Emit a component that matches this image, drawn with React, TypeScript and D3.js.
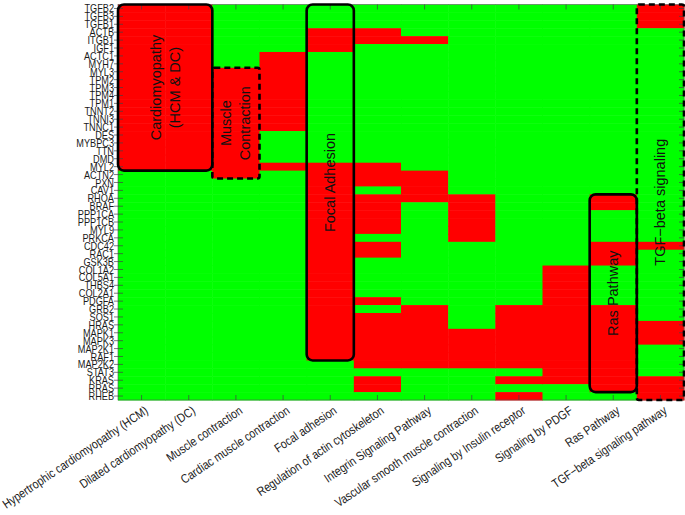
import React from "react";
import * as d3 from "d3";

const genes = [
  "TGFB2", "TGFB3", "TGFB1", "ACTB", "ITGB1", "IGF1", "ACTC1", "MYH7", "MYL3", "TPM2",
  "TPM3", "TPM4", "TPM1", "TNNT2", "TNNI3", "TNNC1", "DES", "MYBPC3", "TTN", "DMD",
  "MYL2", "ACTN2", "PXN", "CAV1", "RHOA", "BRAF", "PPP1CA", "PPP1CB", "MYL9", "PRKCA",
  "CDC42", "RAC1", "GSK3B", "COL1A2", "COL5A1", "THBS4", "COL2A1", "PDGFA", "GRB2", "SOS1",
  "HRAS", "MAPK1", "MAPK3", "MAP2K1", "RAF1", "MAP2K2", "STAT3", "KRAS", "RRAS", "RHEB",
];

const pathways = [
  "Hypertrophic cardiomyopathy (HCM)",
  "Dilated cardiomyopathy (DC)",
  "Muscle contraction",
  "Cardiac muscle contraction",
  "Focal adhesion",
  "Regulation of actin cytoskeleton",
  "Integrin Signaling Pathway",
  "Vascular smooth muscle contraction",
  "Signaling by Insulin receptor",
  "Signaling by PDGF",
  "Ras Pathway",
  "TGF\u2212beta signaling pathway",
];

// genes marked (red) in each pathway, same order as pathways
const cardioGenes = [
  "TGFB2", "TGFB3", "TGFB1", "ACTB", "ITGB1", "IGF1", "ACTC1", "MYH7", "MYL3", "TPM2", "TPM3",
  "TPM4", "TPM1", "TNNT2", "TNNI3", "TNNC1", "DES", "MYBPC3", "TTN", "DMD", "MYL2",
];
const muscleGenes = [
  "MYL3", "TPM2", "TPM3", "TPM4", "TPM1", "TNNT2", "TNNI3", "TNNC1", "DES", "MYBPC3", "TTN",
  "DMD", "MYL2", "ACTN2",
];
const cardiacMuscleGenes = [
  "ACTC1", "MYH7", "MYL3", "TPM2", "TPM3", "TPM4", "TPM1", "TNNT2", "TNNI3", "TNNC1", "MYL2",
];
const focalGenes = [
  "ACTB", "ITGB1", "IGF1", "MYL2", "ACTN2", "PXN", "CAV1", "RHOA", "BRAF", "PPP1CA", "PPP1CB",
  "MYL9", "PRKCA", "CDC42", "RAC1", "GSK3B", "COL1A2", "COL5A1", "THBS4", "COL2A1", "PDGFA",
  "GRB2", "SOS1", "HRAS", "MAPK1", "MAPK3", "MAP2K1", "RAF1",
];
const actinGenes = [
  "ACTB", "ITGB1", "MYL2", "ACTN2", "PXN", "RHOA", "BRAF", "PPP1CA", "PPP1CB", "MYL9", "CDC42",
  "RAC1", "PDGFA", "SOS1", "HRAS", "MAPK1", "MAPK3", "MAP2K1", "RAF1", "MAP2K2", "KRAS", "RRAS",
];
const integrinGenes = [
  "ITGB1", "ACTN2", "PXN", "CAV1", "RHOA", "GRB2", "SOS1", "HRAS", "MAPK1", "MAPK3", "MAP2K1",
  "RAF1", "MAP2K2",
];
const vascularGenes = [
  "RHOA", "BRAF", "PPP1CA", "PPP1CB", "MYL9", "PRKCA", "MAPK1", "MAPK3", "MAP2K1", "RAF1", "MAP2K2",
];
const insulinGenes = [
  "GRB2", "SOS1", "HRAS", "MAPK1", "MAPK3", "MAP2K1", "RAF1", "MAP2K2", "KRAS", "RHEB",
];
const pdgfGenes = [
  "COL1A2", "COL5A1", "THBS4", "COL2A1", "PDGFA", "GRB2", "SOS1", "HRAS", "MAPK1", "MAPK3",
  "MAP2K1", "RAF1", "MAP2K2", "STAT3", "KRAS",
];
const rasGenes = [
  "RHOA", "BRAF", "CDC42", "RAC1", "GSK3B", "GRB2", "SOS1", "HRAS", "MAPK1", "MAPK3", "MAP2K1",
  "RAF1", "MAP2K2", "STAT3", "KRAS", "RRAS",
];
const tgfGenes = [
  "TGFB2", "TGFB3", "TGFB1", "CDC42", "HRAS", "MAPK1", "MAPK3", "KRAS", "RRAS", "RHEB",
];

const members = [
  cardioGenes, cardioGenes, muscleGenes, cardiacMuscleGenes, focalGenes, actinGenes,
  integrinGenes, vascularGenes, insulinGenes, pdgfGenes, rasGenes, tgfGenes,
];

// annotation boxes: [label lines], first/last pathway, first/last gene, dashed
const boxLabels = [["Cardiomyopathy", "(HCM & DC)"], ["Muscle", "Contraction"], ["Focal Adhesion"], ["Ras Pathway"], ["TGF\u2212beta signaling"]];
const boxCols = [[0, 1], [2, 2], [4, 4], [10, 10], [11, 11]];
const boxRows = [["TGFB2", "MYL2"], ["MYL3", "ACTN2"], ["TGFB2", "RAF1"], ["RHOA", "RRAS"], ["TGFB2", "RHEB"]];
const boxDashed = [false, true, false, false, true];

const W = 685;
const H = 515;
const left = 118;
const right = 684;
const top = 4.5;
const bottom = 400;

const RED = "#ff0000";
const GREEN = "#00ff00";
const sansFont = "'Liberation Sans', Arial, sans-serif";
const narrow = 0.82; // squeeze Liberation Sans to look like a narrow face

export default function App() {
  const x = d3.scaleBand().domain(pathways).range([left, right]);
  const y = d3.scaleBand().domain(genes).range([top, bottom]);
  const col = (i: number) => x(pathways[i]) as number;

  return (
    <svg width={W} height={H} viewBox={`0 0 ${W} ${H}`} style={{ position: "absolute", left: 0, top: 0, background: "#fff" }}>
      {/* cells */}
      {pathways.map((p, i) => (
        <g key={p}>
          {genes.map((g) => (
            <rect
              key={g}
              x={x(p)}
              y={y(g)}
              width={x.bandwidth() + 0.5}
              height={y.bandwidth() + 0.5}
              fill={members[i].includes(g) ? RED : GREEN}
            />
          ))}
        </g>
      ))}

      {/* axes frame + ticks */}
      <rect x={left} y={top} width={right - left} height={bottom - top} fill="none" stroke="#555" strokeWidth={0.6} />
      {genes.map((g) => {
        const cy = (y(g) as number) + y.bandwidth() / 2;
        return (
          <g key={g}>
            <line x1={left - 4} x2={left + 5} y1={cy} y2={cy} stroke="#444" strokeWidth={0.7} />
            <line x1={right - 5} x2={right} y1={cy} y2={cy} stroke="#444" strokeWidth={0.7} />
            <text
              transform={`translate(114,${cy}) scale(${narrow},1)`}
              dy="0.36em"
              textAnchor="end"
              fontFamily={sansFont}
              fontSize={11.2}
              fill="#1a1a1a"
            >
              {g}
            </text>
          </g>
        );
      })}
      {pathways.map((p) => {
        const cx = (x(p) as number) + x.bandwidth() / 2;
        return (
          <g key={p}>
            <line x1={cx} x2={cx} y1={bottom} y2={bottom - 5} stroke="#444" strokeWidth={0.7} />
            <line x1={cx} x2={cx} y1={top} y2={top + 5} stroke="#444" strokeWidth={0.7} />
            <text
              transform={`translate(${cx + 5},${bottom + 9}) rotate(-34) scale(0.85,1)`}
              textAnchor="end"
              dy="0.35em"
              fontFamily={sansFont}
              fontSize={12.5}
              fill="#1a1a1a"
            >
              {p}
            </text>
          </g>
        );
      })}

      {/* annotation boxes */}
      {boxLabels.map((lines, i) => {
        const x0 = col(boxCols[i][0]);
        const x1 = col(boxCols[i][1]) + x.bandwidth();
        const y0 = y(boxRows[i][0]) as number;
        const y1 = (y(boxRows[i][1]) as number) + y.bandwidth();
        const cx = (x0 + x1) / 2;
        const cy = (y0 + y1) / 2;
        const gap = 19;
        return (
          <g key={i}>
            <rect
              x={x0}
              y={y0}
              width={x1 - x0}
              height={y1 - y0}
              rx={boxDashed[i] ? 2 : 6}
              fill="none"
              stroke="#000"
              strokeWidth={2.6}
              strokeDasharray={boxDashed[i] ? "6,4" : undefined}
            />
            {lines.map((t, j) => (
              <text
                key={t}
                transform={`translate(${cx + (j - (lines.length - 1) / 2) * gap},${cy}) rotate(-90)`}
                textAnchor="middle"
                dy="0.35em"
                fontFamily={sansFont}
                fontSize={14.5}
                fill="#111"
              >
                {t}
              </text>
            ))}
          </g>
        );
      })}
    </svg>
  );
}
